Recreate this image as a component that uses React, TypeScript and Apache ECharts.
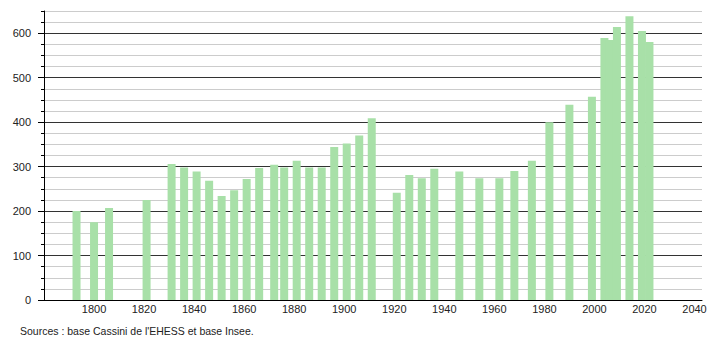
import React, { useEffect, useRef } from "react";
import * as echarts from "echarts";

const years = [
  1793, 1800, 1806, 1821, 1831, 1836, 1841, 1846, 1851, 1856, 1861, 1866, 1872,
  1876, 1881, 1886, 1891, 1896, 1901, 1906, 1911, 1921, 1926, 1931, 1936, 1946,
  1954, 1962, 1968, 1975, 1982, 1990, 1999, 2004, 2006, 2009, 2014, 2019, 2022,
];
const population = [
  200, 175, 207, 225, 306, 298, 289, 268, 234, 247, 272, 297, 304, 298, 313,
  298, 298, 344, 352, 370, 409, 241, 281, 274, 295, 289, 274, 274, 290, 313,
  400, 439, 457, 589, 585, 614, 638, 605, 580,
];
const yMajorTicks = [0, 100, 200, 300, 400, 500, 600];
const sourceText = "Sources : base Cassini de l'EHESS et base Insee.";

const FONT = "'Liberation Sans', Arial, sans-serif";

export default function App() {
  const ref = useRef<HTMLDivElement>(null);
  useEffect(() => {
    if (!ref.current) return;
    const chart = echarts.init(ref.current, null, { renderer: "svg" });
    const data = years.map((y, i) => [y, population[i]]);
    chart.setOption({
      animation: false,
      backgroundColor: "#ffffff",
      grid: { left: 44, right: 8, top: 11, bottom: 40, containLabel: false },
      xAxis: {
        type: "value",
        min: 1780,
        max: 2043,
        interval: 20,
        axisLine: { show: true, lineStyle: { color: "#000", width: 1 } },
        axisTick: { show: false },
        splitLine: { show: false },
        axisLabel: {
          showMinLabel: false,
          showMaxLabel: false,
          margin: 3,
          color: "#222",
          fontSize: 11,
          fontFamily: FONT,
          formatter: (v: number) => String(v),
        },
      },
      yAxis: [
        {
          type: "value",
          min: 0,
          max: 650,
          interval: 25,
          axisLine: { show: true, lineStyle: { color: "#000", width: 1 } },
          axisTick: { show: true, length: 3, lineStyle: { color: "#000" } },
          splitLine: {
            show: true,
            lineStyle: { color: ["#333", "#ccc", "#ccc", "#ccc"], width: 1 },
          },
          axisLabel: {
            margin: 13,
            color: "#222",
            fontSize: 11,
            fontFamily: FONT,
            formatter: (v: number) => (yMajorTicks.includes(v) ? String(v) : ""),
          },
        },
        {
          type: "value",
          min: 0,
          max: 650,
          interval: 100,
          position: "left",
          axisLine: { show: false },
          axisLabel: { show: false },
          splitLine: { show: false },
          axisTick: {
            show: true,
            length: 6,
            customValues: yMajorTicks,
            lineStyle: { color: "#000" },
          },
        },
      ],
      series: [
        {
          type: "bar",
          data,
          barWidth: 8,
          itemStyle: { color: "#a8e0a8" },
          emphasis: { disabled: true },
          silent: true,
        },
      ],
      graphic: [
        {
          type: "text",
          left: 20,
          top: 325,
          style: {
            text: sourceText,
            fill: "#222",
            font: `10.5px ${FONT}`,
          },
        },
      ],
    });
    return () => chart.dispose();
  }, []);
  return (
    <div
      ref={ref}
      style={{ position: "fixed", left: 0, top: 0, width: 710, height: 340 }}
    />
  );
}
